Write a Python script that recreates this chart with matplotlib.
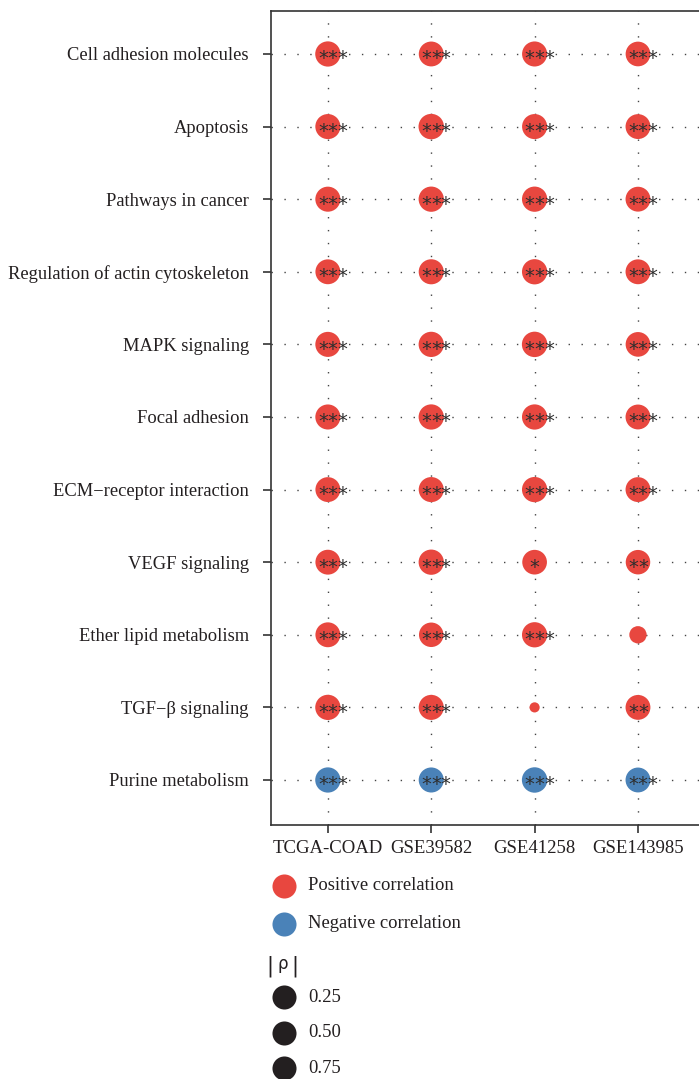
import matplotlib
matplotlib.use("Agg")
import matplotlib.pyplot as plt
import numpy as np

pathways = ["Cell adhesion molecules", "Apoptosis", "Pathways in cancer",
            "Regulation of actin cytoskeleton", "MAPK signaling", "Focal adhesion",
            "ECM\u2212receptor interaction", "VEGF signaling", "Ether lipid metabolism",
            "TGF\u2212\u03b2 signaling", "Purine metabolism"]
datasets = ["TCGA-COAD", "GSE39582", "GSE41258", "GSE143985"]

# |rho| per pathway (rows) x dataset (cols)
rho_abs = [
    [0.68, 0.66, 0.67, 0.65],
    [0.67, 0.69, 0.67, 0.66],
    [0.67, 0.68, 0.68, 0.66],
    [0.66, 0.67, 0.68, 0.66],
    [0.67, 0.68, 0.69, 0.65],
    [0.67, 0.68, 0.68, 0.66],
    [0.66, 0.67, 0.68, 0.66],
    [0.66, 0.68, 0.65, 0.64],
    [0.66, 0.64, 0.68, 0.32],
    [0.68, 0.67, 0.11, 0.66],
    [0.68, 0.67, 0.69, 0.66],
]
# sign of correlation: 1 positive, -1 negative
sign = [
    [1, 1, 1, 1], [1, 1, 1, 1], [1, 1, 1, 1], [1, 1, 1, 1], [1, 1, 1, 1],
    [1, 1, 1, 1], [1, 1, 1, 1], [1, 1, 1, 1], [1, 1, 1, 1], [1, 1, 1, 1],
    [-1, -1, -1, -1],
]
stars = [
    ["***", "***", "***", "***"], ["***", "***", "***", "***"],
    ["***", "***", "***", "***"], ["***", "***", "***", "***"],
    ["***", "***", "***", "***"], ["***", "***", "***", "***"],
    ["***", "***", "***", "***"], ["***", "***", "*", "**"],
    ["***", "***", "***", ""], ["***", "***", "", "**"],
    ["***", "***", "***", "***"],
]
legend_rho = [0.25, 0.50, 0.75]

RED = "#E8473F"
BLUE = "#4A82B8"
DARK = "#231F20"
SERIF = ["Liberation Serif", "DejaVu Serif"]

W, H = 699, 1079
fig = plt.figure(figsize=(W / 100, H / 100), dpi=100)
ax = fig.add_axes([271 / W, (H - 825) / H, 429 / W, 814 / H])

n_rows = len(pathways)
n_cols = len(datasets)
ax.set_xlim(0.45, 4.6)
ax.set_ylim(n_rows + 0.62, 0.408)

dot_style = dict(color="#444444", lw=1.0, linestyle=(0, (1, 8.3)), zorder=0)
for i in range(n_rows):
    ax.axhline(i + 1, **dot_style)
for j in range(n_cols):
    ax.axvline(j + 1, **dot_style)

def size_of(r):
    return 340 * r / 0.7

xs, ys, ss, cs = [], [], [], []
for i in range(n_rows):
    for j in range(n_cols):
        xs.append(j + 1)
        ys.append(i + 1)
        ss.append(size_of(rho_abs[i][j]))
        cs.append(RED if sign[i][j] > 0 else BLUE)
ax.scatter(xs, ys, s=ss, c=cs, linewidths=0, zorder=2)

STAR_STEP = 7.0  # points between asterisks
for i in range(n_rows):
    for j in range(n_cols):
        n = len(stars[i][j])
        shift = 3.4 if n == 3 else 0.0
        for k in range(n):
            dx = (k - (n - 1) / 2) * STAR_STEP + shift
            ax.annotate("*", xy=(j + 1, i + 1), xytext=(dx, -3.6),
                        textcoords="offset points", ha="center", va="center",
                        fontsize=14, color="#2e2e2e", family="DejaVu Sans", zorder=3)

ax.set_xticks(range(1, n_cols + 1))
ax.set_xticklabels(datasets, family=SERIF, fontsize=13.5, color="#231F20")
ax.set_yticks(range(1, n_rows + 1))
ax.set_yticklabels(pathways, family=SERIF, fontsize=13.3, color="#231F20")
ax.tick_params(axis="both", length=6, width=1.2, color="#333333")
ax.tick_params(axis="y", pad=10)
ax.tick_params(axis="x", pad=5)
for side in ["left", "bottom", "top"]:
    ax.spines[side].set_color("#333333")
    ax.spines[side].set_linewidth(1.2)
ax.spines["right"].set_visible(False)

leg_ax = fig.add_axes([0, 0, 1, 1], facecolor="none")
leg_ax.set_xlim(0, W)
leg_ax.set_ylim(H, 0)
leg_ax.axis("off")
leg_ax.scatter([284], [886], s=300, color=RED, linewidths=0)
leg_ax.text(308, 886, "Positive correlation", family=SERIF, fontsize=13.4, va="center", color=DARK)
leg_ax.scatter([284], [924], s=300, color=BLUE, linewidths=0)
leg_ax.text(308, 924, "Negative correlation", family=SERIF, fontsize=13.4, va="center", color=DARK)
leg_ax.text(270, 966, "|", family="DejaVu Sans", fontsize=15, va="center", ha="center", color=DARK)
leg_ax.text(283, 964, "\u03c1", family="DejaVu Sans", fontsize=12, va="center", ha="center", color=DARK)
leg_ax.text(295, 966, "|", family="DejaVu Sans", fontsize=15, va="center", ha="center", color=DARK)
for k, val in enumerate(legend_rho):
    yy = 997 + k * 35.7
    leg_ax.scatter([284], [yy], s=300, color=DARK, linewidths=0)
    leg_ax.text(308, yy, f"{val:.2f}", family=SERIF, fontsize=13.4, va="center", color=DARK)

fig.savefig("out.png", dpi=100)
